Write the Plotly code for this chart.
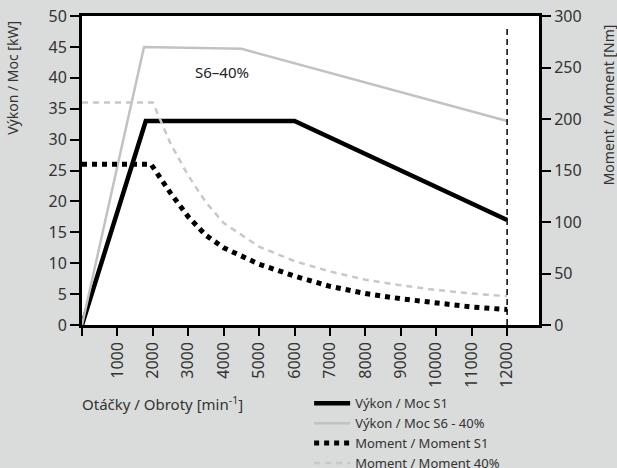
import plotly.graph_objects as go

# --- data ---
rpm_p_s1 = [0, 1800, 6000, 12000]
power_s1 = [0, 33, 33, 17]

rpm_p_s6 = [0, 1750, 4500, 12000]
power_s6 = [0, 45, 44.7, 33]

rpm_t_s1 = [0, 1950, 2500, 3000, 3500, 4000, 5000, 6000, 7000, 8000, 9000, 10000, 11000, 12000]
torque_s1 = [156, 156, 128, 105, 87, 75, 59, 47.5, 37.5, 30.5, 25.5, 21, 17.5, 15]

rpm_t_s6 = [0, 2000, 2500, 3000, 3500, 4000, 5000, 6000, 7000, 8000, 9000, 10000, 11000, 12000]
torque_s6 = [216, 216, 176, 145, 119, 99, 76, 62, 52, 44, 38.5, 34, 30.5, 28]

x_ticks = list(range(0, 13000, 1000))
x_ticktext = [""] + [str(v) for v in x_ticks[1:]]
max_rpm = 12000
max_line_kw = 48.5

FONT = "Noto Sans"
TXT = "#333333"

fig = go.Figure()

fig.add_trace(go.Scatter(x=rpm_p_s1, y=power_s1, mode="lines", name="Výkon / Moc S1",
                         line=dict(color="black", width=4.5)))
fig.add_trace(go.Scatter(x=rpm_p_s6, y=power_s6, mode="lines", name="Výkon / Moc S6 - 40%",
                         line=dict(color="#c2c2c2", width=2.5)))
fig.add_trace(go.Scatter(x=rpm_t_s1, y=torque_s1, mode="lines", name="Moment / Moment S1",
                         yaxis="y2", line=dict(color="black", width=5, dash="5px,5px")))
fig.add_trace(go.Scatter(x=rpm_t_s6, y=torque_s6, mode="lines", name="Moment / Moment 40%",
                         yaxis="y2", line=dict(color="#c8c8c8", width=2.5, dash="6px,5px")))

fig.add_shape(type="line", x0=max_rpm, x1=max_rpm, y0=0, y1=max_line_kw, xref="x", yref="y",
              line=dict(color="black", width=1.5, dash="6px,4px"))

fig.add_annotation(x=3950, y=41, xref="x", yref="y", text="S6–40%", showarrow=False,
                   font=dict(family=FONT, size=15, color="#222222"))

fig.add_annotation(x=-0.151, y=0.80, xref="paper", yref="paper", text="Výkon / Moc [kW]",
                   textangle=-90, showarrow=False, xanchor="center", yanchor="middle",
                   font=dict(family=FONT, size=14, color=TXT))
fig.add_annotation(x=1.154, y=0.712, xref="paper", yref="paper", text="Moment / Moment [Nm]",
                   textangle=-90, showarrow=False, xanchor="center", yanchor="middle",
                   font=dict(family=FONT, size=14, color=TXT))
fig.add_annotation(x=-0.004, y=-0.255, xref="paper", yref="paper",
                   text="Otáčky / Obroty [min<sup>-1</sup>]",
                   showarrow=False, xanchor="left", yanchor="middle",
                   font=dict(family=FONT, size=15, color=TXT))

fig.update_layout(
    width=617, height=468,
    margin=dict(l=82, r=78, t=16, b=143, autoexpand=False),
    paper_bgcolor="#d9dcdb",
    plot_bgcolor="white",
    font=dict(family=FONT, size=16, color=TXT),
    showlegend=True,
    legend=dict(x=0.497, y=-0.205, xanchor="left", yanchor="top", bgcolor="rgba(0,0,0,0)",
                font=dict(family=FONT, size=13, color=TXT), tracegroupgap=0,
                itemwidth=36),
    xaxis=dict(range=[0, 12900], tickvals=x_ticks, ticktext=x_ticktext, tickangle=-90,
               ticks="outside", ticklen=8, tickwidth=1.5, tickcolor="black",
               showline=True, linecolor="black", linewidth=2.5, mirror=True,
               showgrid=False, zeroline=False, automargin=False),
    yaxis=dict(range=[0, 50], dtick=5, ticks="outside", ticklen=9, tickwidth=1.5,
               tickcolor="black", showline=True, linecolor="black", linewidth=3,
               showgrid=False, zeroline=False, automargin=False),
    yaxis2=dict(range=[0, 300], dtick=50, overlaying="y", side="right", ticks="outside",
                ticklen=9, tickwidth=1.5, tickcolor="black", showline=True,
                linecolor="black", linewidth=3, showgrid=False, zeroline=False,
                automargin=False),
)

fig.write_html("out.html")
